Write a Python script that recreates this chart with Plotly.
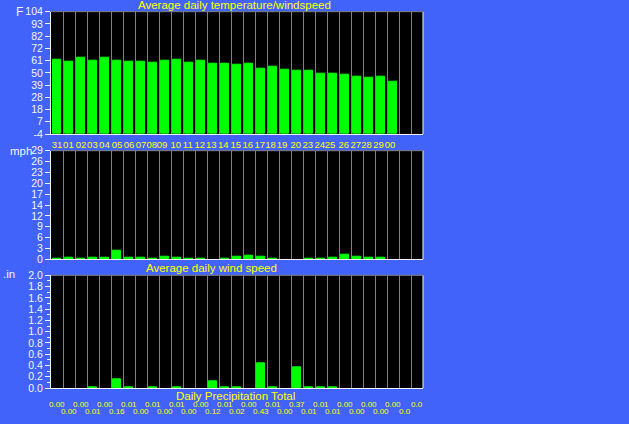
import plotly.graph_objects as go

# ---------------- data ----------------
n_slots = 31
temp_labels = ['31', '01', '02', '03', '04', '05', '06', '07', '08', '09', '10', '11', '12', '13',
               '14', '15', '16', '17', '18', '19', '20', '23', '24', '25', '26', '27', '28', '29', '00']
temp_label_pos = [0, 0.95, 2, 2.95, 3.95, 5, 6, 7, 7.9, 8.75, 9.9, 10.9, 11.9, 12.85,
                  13.85, 14.9, 15.9, 16.9, 17.8, 18.75, 19.9, 20.9, 21.9, 22.75, 23.9, 24.9, 25.8, 26.8, 27.75]
temp_values = [62, 60, 63.5, 61, 63.5, 61, 60, 60, 59, 61, 62, 59, 61, 58,
               58, 57.5, 58, 54, 55, 53, 52, 52, 49.5, 49.5, 48.5, 47, 46, 47, 42.5]
temp_ticks = [-4, 6.8, 17.6, 28.4, 39.2, 50, 60.8, 71.6, 82.4, 93.2, 104]
temp_ticktext = ['-4', '7', '18', '28', '39', '50', '61', '72', '82', '93', '104']

wind_values = [0.2, 0.5, 0.2, 0.5, 0.5, 2.3, 0.5, 0.5, 0.2, 0.7, 0.5, 0.2, 0.2, 0,
               0.2, 0.7, 1.0, 0.7, 0.2, 0, 0, 0.2, 0.2, 0.5, 1.3, 0.7, 0.5, 0.5, 0]
wind_ticks = [0, 2.9, 5.8, 8.7, 11.6, 14.5, 17.4, 20.3, 23.2, 26.1, 29]
wind_ticktext = ['0', '3', '6', '9', '12', '14', '17', '20', '23', '26', '29']

precip_values = [0.00, 0.00, 0.00, 0.01, 0.00, 0.16, 0.01, 0.00, 0.01, 0.00, 0.01, 0.00, 0.00, 0.12,
                 0.01, 0.02, 0.00, 0.43, 0.01, 0.00, 0.37, 0.01, 0.01, 0.01, 0.00, 0.00, 0.00, 0.00,
                 0.00, 0.0, 0.0]
precip_labels = ['0.00', '0.00', '0.00', '0.01', '0.00', '0.16', '0.01', '0.00', '0.01', '0.00',
                 '0.01', '0.00', '0.00', '0.12', '0.01', '0.02', '0.00', '0.43', '0.01', '0.00',
                 '0.37', '0.01', '0.01', '0.01', '0.00', '0.00', '0.00', '0.00', '0.00', '0.0', '0.0']
precip_ticks = [0.0, 0.2, 0.4, 0.6, 0.8, 1.0, 1.2, 1.4, 1.6, 1.8, 2.0]
precip_ticktext = ['0.0', '0.2', '0.4', '0.6', '0.8', '1.0', '1.2', '1.4', '1.6', '1.8', '2.0']

# ---------------- style ----------------
W, H = 629, 424
BG = '#4263fa'
GREEN = '#00ff00'
YELLOW = '#ffff00'
WHITE = '#f4f4ff'
GRID = '#808080'
FONT = 'Liberation Sans, Arial, sans-serif'


def px_x(p):
    return p / W


def px_y(p):
    return 1 - p / H


x_dom = [px_x(51), px_x(423)]
dom_top = [px_y(134), px_y(11.7)]
dom_mid = [px_y(259.3), px_y(150.7)]
dom_bot = [px_y(388), px_y(275.3)]


def nz(vals):
    return [v if v > 0 else None for v in vals]


bar_style = dict(marker=dict(color=GREEN, line=dict(color=GREEN, width=1)), width=0.67,
                 hoverinfo='skip', showlegend=False)

fig = go.Figure()
fig.add_trace(go.Bar(x=list(range(len(temp_values))), y=[v + 4 for v in temp_values], base=-4,
                     xaxis='x', yaxis='y', **bar_style))
fig.add_trace(go.Bar(x=list(range(len(wind_values))), y=nz(wind_values),
                     xaxis='x2', yaxis='y2', **bar_style))
fig.add_trace(go.Bar(x=list(range(len(precip_values))), y=nz(precip_values),
                     xaxis='x3', yaxis='y3', **bar_style))

common_x = dict(range=[-0.5, n_slots - 0.5], domain=x_dom, showgrid=False, zeroline=False,
                showline=True, linecolor=WHITE, linewidth=1, ticks='', fixedrange=True,
                automargin=False,
                minor=dict(tickmode='linear', tick0=-0.5, dtick=1, showgrid=True,
                           gridcolor=GRID, gridwidth=1, ticks=''))
common_y = dict(showgrid=False, zeroline=False, showline=True, linecolor=WHITE, linewidth=1,
                ticks='outside', ticklen=5, tickcolor=WHITE, tickwidth=1, automargin=False,
                tickfont=dict(family=FONT, size=10.5, color=WHITE), tickmode='array',
                fixedrange=True)

fig.update_layout(
    width=W, height=H, margin=dict(l=0, r=0, t=0, b=0, pad=0, autoexpand=False),
    paper_bgcolor=BG, plot_bgcolor='black', bargap=0, showlegend=False,
    xaxis=dict(common_x, anchor='y', tickmode='array', tickvals=temp_label_pos,
               ticktext=temp_labels, showticklabels=True, tickangle=0,
               tickfont=dict(family=FONT, size=9.5, color=YELLOW), ticklabelstandoff=2),
    yaxis=dict(common_y, domain=dom_top, anchor='x', range=[-4, 104],
               tickvals=temp_ticks, ticktext=temp_ticktext),
    xaxis2=dict(common_x, anchor='y2', showticklabels=False),
    yaxis2=dict(common_y, domain=dom_mid, anchor='x2', range=[0, 29],
                tickvals=wind_ticks, ticktext=wind_ticktext),
    xaxis3=dict(common_x, anchor='y3', showticklabels=False),
    yaxis3=dict(common_y, domain=dom_bot, anchor='x3', range=[0, 2],
                tickvals=precip_ticks, ticktext=precip_ticktext,
                minor=dict(tickmode='linear', tick0=0.1, dtick=0.2, ticks='outside',
                           ticklen=3, tickcolor=WHITE, showgrid=False)),
)

shapes = []
for xa, ya in (('x', 'y'), ('x2', 'y2'), ('x3', 'y3')):
    shapes.append(dict(type='line', xref=xa + ' domain', yref=ya + ' domain',
                       x0=1, x1=1, y0=0, y1=1, line=dict(color=WHITE, width=1)))
    shapes.append(dict(type='line', xref=xa + ' domain', yref=ya + ' domain',
                       x0=0, x1=1, y0=1, y1=1, line=dict(color=GRID, width=1)))
fig.update_layout(shapes=shapes)

ann = []


def text(t, x, y, color, size, xanchor='center'):
    ann.append(dict(text=t, x=px_x(x), y=px_y(y), xref='paper', yref='paper',
                    xanchor=xanchor, yanchor='middle', showarrow=False,
                    font=dict(family=FONT, size=size, color=color)))


text('Average daily temperature/windspeed', 234.5, 5.5, YELLOW, 11.5)
text('Average daily wind speed', 211, 268, YELLOW, 11.5)
text('Daily Precipitation Total', 235, 395.5, YELLOW, 11.5)
text('F', 19, 12, WHITE, 12)
text('mph', 34, 150.5, WHITE, 11.5, xanchor='right')
text('.in', 9, 274, WHITE, 11.5)

for i, lab in enumerate(precip_labels):
    ann.append(dict(text=lab, x=i, y=px_y(404.5 if i % 2 == 0 else 411.5), xref='x3', yref='paper',
                    xanchor='center', yanchor='middle', showarrow=False,
                    font=dict(family=FONT, size=8, color=YELLOW)))

fig.update_layout(annotations=ann)
fig.write_html('out.html', config={'displayModeBar': False})

with open('out.html', 'r', encoding='utf-8') as f:
    html = f.read()
html = html.replace('<head>', '<head><style>html,body{margin:0;padding:0;background:%s;overflow:hidden;}</style>' % BG, 1)
with open('out.html', 'w', encoding='utf-8') as f:
    f.write(html)
